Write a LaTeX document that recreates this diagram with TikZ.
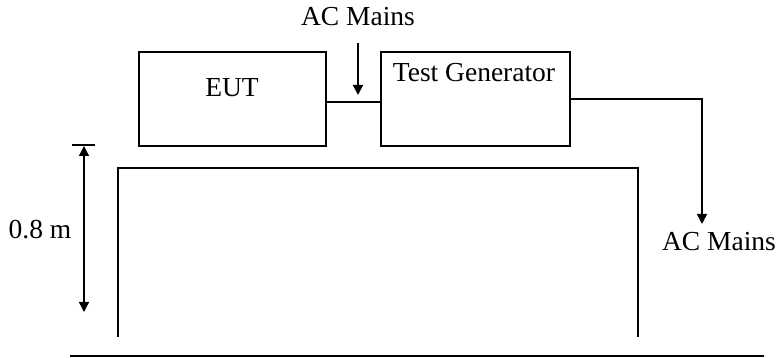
\documentclass[tikz,border=0pt]{standalone}
\usepackage{fontspec}
\setmainfont{Liberation Serif}
\usetikzlibrary{arrows.meta}

\begin{document}
\begin{tikzpicture}[x=1pt, y=-1pt, line width=1.6pt, font=\fontsize{27.5}{32}\selectfont,
  unit/.style={draw, minimum width=187pt, minimum height=94pt, inner sep=0pt},
  feed/.style={-{Triangle[length=10pt, width=10pt]}},
  span/.style={{Triangle[length=10pt, width=10pt]}-{Triangle[length=10pt, width=10pt]}, line width=1.4pt}]
  \useasboundingbox (0,0) rectangle (777,358);
  % EUT and generator on the table
  \node[unit] (eut) at (232.5,99) {};
  \node (euttxt) at (232,88) {EUT};
  \node[unit, minimum width=189pt] (tg) at (475.5,99) {};
  \node (tgtxt) at (474,73) {Test Generator};
  \draw ([yshift=-3pt]eut.east) -- ([yshift=-3pt]tg.west);
  % mains feed into the generator
  \node (mainsin) at (358,17) {AC Mains};
  \coordinate (intop) at (358,43);
  \coordinate (inend) at (358,95);
  \draw[feed] (intop) -- (inend);
  % mains out of the generator
  \coordinate (outend) at (702,224);
  \draw[feed] (tg.east) -| (outend);
  \node (mainsout) at (719,242) {AC Mains};
  % table and ground
  \draw (118,337) -- (118,168) -- (638,168) -- (638,337);
  \draw (70,356) -- (764,356);
  % height of the table
  \coordinate (htop) at (84,146);
  \coordinate (hbot) at (84,312);
  \draw (72,145) -- (95,145);
  \draw[span] (htop) -- (hbot);
  \node (height) at (40,230) {0.8 m};
\end{tikzpicture}
\end{document}
